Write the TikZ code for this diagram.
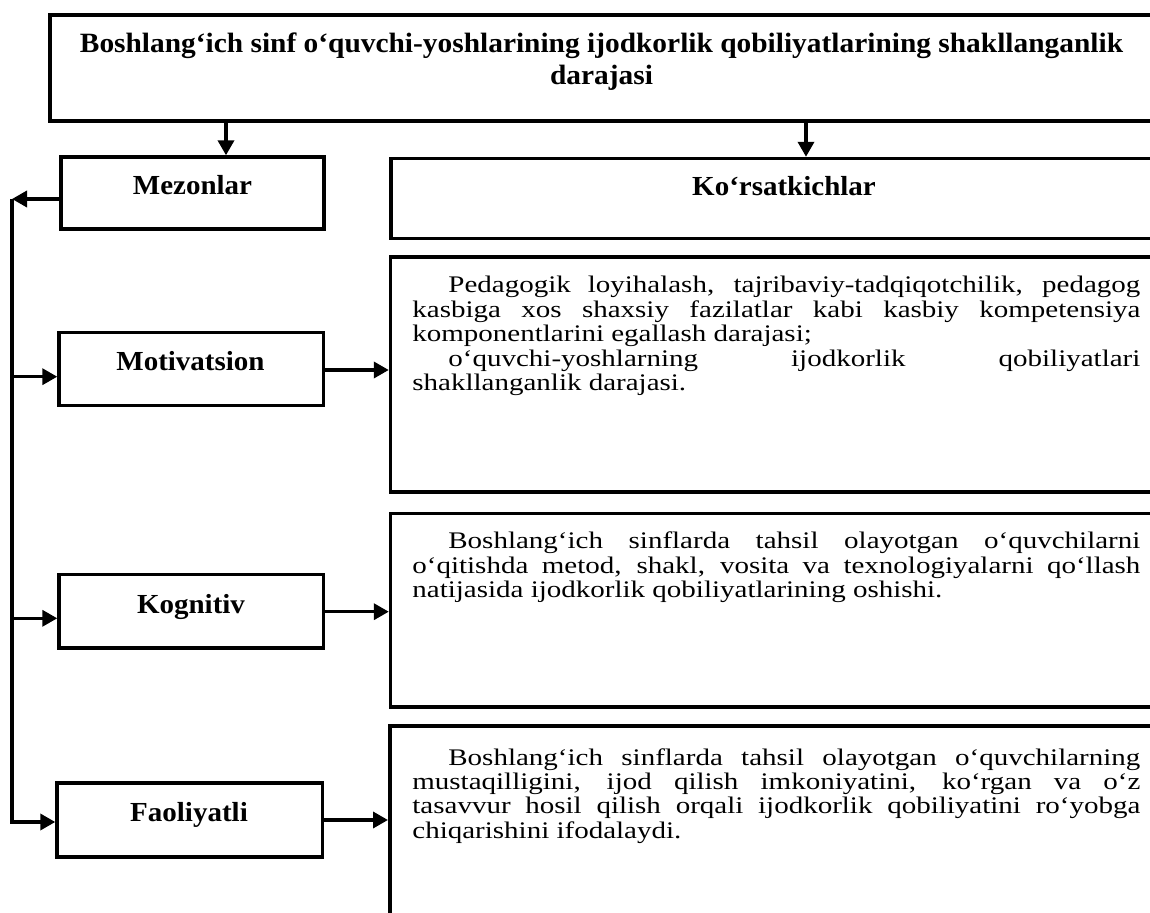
\documentclass[tikz,border=0pt]{standalone}
\usepackage{fontspec}
\usepackage{graphicx}
\setmainfont{Liberation Serif}
\usetikzlibrary{arrows.meta}
\newcommand{\vsq}[2]{\scalebox{1}[#1]{#2}}
\newcommand{\dpar}[1]{\vsq{0.82}{\parbox[t]{364pt}{\fontsize{14.5}{14.88}\selectfont\hyphenpenalty=10000\exhyphenpenalty=10000\tolerance=10000\parindent=18pt #1}}}
\begin{document}
\begin{tikzpicture}[x=0.5pt,y=-0.5pt,
  box/.style={draw, line width=1.75pt, inner sep=0pt, anchor=north west},
  conn/.style={line width=1.75pt},
  arr/.style={conn, -{Triangle[length=7.5pt,width=8pt]}},
  lab/.style={font=\bfseries\fontsize{14.5}{16.8}\selectfont, anchor=base, inner sep=0pt},
  desc/.style={anchor=base west, inner sep=0pt}]
\useasboundingbox (0,0) rectangle (1150,913);
\clip (0,0) rectangle (1150,913);
% boxes
\node[box, minimum width=562.5pt, minimum height=53pt] (title) at (48.3,13.3) {};
\node[box, minimum width=131.5pt, minimum height=36pt] (mez) at (59.3,155.3) {};
\node[box, minimum width=392pt, minimum height=40pt] (kor) at (389.3,156.8) {};
\node[box, minimum width=132.25pt, minimum height=36.5pt] (mot) at (57.3,330.8) {};
\node[box, minimum width=392.25pt, minimum height=117.5pt] (dmot) at (388.8,255.3) {};
\node[box, minimum width=132.25pt, minimum height=36.6pt] (kog) at (57.3,572.8) {};
\node[box, minimum width=392.25pt, minimum height=96.65pt] (dkog) at (388.8,512) {};
\node[box, minimum width=132.65pt, minimum height=37pt] (fao) at (55.3,781) {};
\node[box, minimum width=392.25pt, minimum height=117pt] (dfao) at (388,724.3) {};
% labels
\node[lab] (ttitle) at (601.5,53) {\vsq{0.95}{\parbox[t]{550pt}{\centering\bfseries\fontsize{14.7}{16.8}\selectfont Boshlang‘ich sinf o‘quvchi-yoshlarining ijodkorlik qobiliyatlarining shakllanganlik\\darajasi}}};
\node[lab] (tmez) at (192.5,195) {\vsq{0.95}{Mezonlar}};
\node[lab] (tkor) at (784,196) {\vsq{0.95}{Ko‘rsatkichlar}};
\node[lab] (tmot) at (190.5,370.7) {\vsq{0.95}{Motivatsion}};
\node[lab] (tkog) at (191,613) {\vsq{0.95}{Kognitiv}};
\node[lab] (tfao) at (189,821.7) {\vsq{0.95}{Faoliyatli}};
% descriptions
\node[desc] (xmot) at (412,293) {\dpar{Pedagogik loyihalash, tajribaviy-tadqiqotchilik, pedagog\linebreak kasbiga xos shaxsiy fazilatlar kabi kasbiy kompetensiya\linebreak komponentlarini egallash darajasi;\par
o‘quvchi-yoshlarning ijodkorlik qobiliyatlari\linebreak shakllanganlik darajasi.}};
\node[desc] (xkog) at (412,549) {\dpar{Boshlang‘ich sinflarda tahsil olayotgan o‘quvchilarni\linebreak o‘qitishda metod, shakl, vosita va texnologiyalarni qo‘llash\linebreak natijasida ijodkorlik qobiliyatlarining oshishi.}};
\node[desc] (xfao) at (412,765) {\dpar{Boshlang‘ich sinflarda tahsil olayotgan o‘quvchilarning\linebreak mustaqilligini, ijod qilish imkoniyatini, ko‘rgan va o‘z\linebreak tasavvur hosil qilish orqali ijodkorlik qobiliyatini ro‘yobga\linebreak chiqarishini ifodalaydi.}};
% connectors
\coordinate (a1) at (226,0);
\coordinate (a2) at (806,0);
\draw[arr] (a1 |- title.south) -- (a1 |- mez.north);
\draw[arr] (a2 |- title.south) -- (a2 |- kor.north);
\coordinate (s0) at (12,199);
\coordinate (s1) at (12,376.7);
\coordinate (s2) at (12,618.3);
\coordinate (s3) at (12,822);
\draw[arr] (s0 -| mez.west) -- (s0);
\draw[arr] (s0) -- (s3) -- (s3 -| fao.west);
\draw[arr] (s1) -- (s1 -| mot.west);
\draw[arr] (s2) -- (s2 -| kog.west);
\coordinate (r1) at (0,370);
\coordinate (r2) at (0,611.7);
\coordinate (r3) at (0,820);
\draw[arr] (r1 -| mot.east) -- (r1 -| dmot.west);
\draw[arr] (r2 -| kog.east) -- (r2 -| dkog.west);
\draw[arr] (r3 -| fao.east) -- (r3 -| dfao.west);
\end{tikzpicture}
\end{document}
